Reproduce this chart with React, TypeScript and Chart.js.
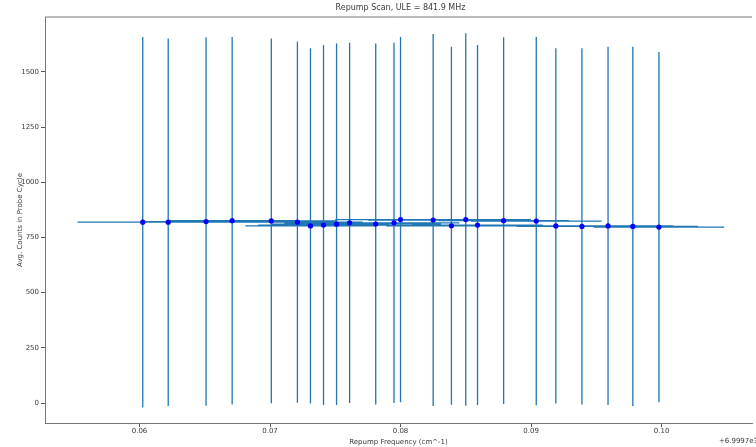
import React, { useEffect, useRef } from "react";
import { Chart, registerables } from "chart.js";

Chart.register(...registerables);

const chartTitle = "Repump Scan, ULE = 841.9 MHz";
const xAxisLabel = "Repump Frequency (cm^-1)";
const yAxisLabel = "Avg. Counts in Probe Cycle";
const xOffsetLabel = "+6.9997e3";

// frequency relative to offset (cm^-1)
const freqs = [
  0.06025, 0.0622, 0.0651, 0.0671, 0.0701, 0.0721, 0.0731, 0.0741, 0.0751, 0.0761,
  0.0781, 0.0795, 0.08, 0.0825, 0.0839, 0.085, 0.0859, 0.0879, 0.0904, 0.0919,
  0.0939, 0.0959, 0.0978, 0.0998,
];
const counts = [
  819, 819, 822, 826, 825, 819, 802, 806, 810, 816,
  811, 816, 831, 829, 803, 831, 806, 826, 824, 802,
  800, 802, 800, 797,
];
const countErr = [
  839, 832, 834, 832, 826, 817, 804, 815, 818, 815,
  817, 815, 827, 842, 810, 843, 815, 830, 834, 804,
  806, 811, 813, 793,
];
const freqErr = [
  0.005, 0.005, 0.005, 0.005, 0.005, 0.005, 0.005, 0.005, 0.005, 0.005,
  0.005, 0.005, 0.005, 0.005, 0.005, 0.005, 0.005, 0.005, 0.005, 0.005,
  0.005, 0.005, 0.005, 0.005,
];
const xTicks = [0.06, 0.07, 0.08, 0.09, 0.1];
const xTickLabels = ["0.06", "0.07", "0.08", "0.09", "0.10"];
const yTicks = [0, 250, 500, 750, 1000, 1250, 1500];

const FONT = '"DejaVu Sans", sans-serif';
const TEXT = "#3a3a3a";
const AXIS = "#555555";
const ERR_COLOR = "#1f77b4";
const MARKER_COLOR = "#0000ff";

const decorPlugin = {
  id: "decor",
  afterDraw(chart: any) {
    const { ctx, chartArea } = chart;
    ctx.save();
    ctx.strokeStyle = AXIS;
    ctx.lineWidth = 0.8;
    ctx.beginPath();
    ctx.moveTo(chartArea.left, chartArea.top);
    ctx.lineTo(chartArea.right, chartArea.top);
    ctx.stroke();
    ctx.fillStyle = TEXT;
    ctx.font = `8px ${FONT}`;
    ctx.textAlign = "center";
    ctx.textBaseline = "middle";
    ctx.fillText(chartTitle, (chartArea.left + chartArea.right) / 2 + 2, 8);
    ctx.font = `7px ${FONT}`;
    ctx.textAlign = "right";
    ctx.fillText(xOffsetLabel, chartArea.right + 6, 441);
    ctx.restore();
  },
};

export default function App() {
  const ref = useRef<HTMLCanvasElement | null>(null);

  useEffect(() => {
    if (!ref.current) return;
    const vBars: any[] = [];
    const hBars: any[] = [];
    const pts: any[] = [];
    freqs.forEach((f, i) => {
      const c = counts[i];
      vBars.push({ x: f, y: c - countErr[i] }, { x: f, y: c + countErr[i] }, { x: f, y: null });
      hBars.push({ x: f - freqErr[i], y: c }, { x: f + freqErr[i], y: c }, { x: null, y: null });
      pts.push({ x: f, y: c });
    });

    const chart = new Chart(ref.current, {
      type: "scatter",
      data: {
        datasets: [
          {
            data: pts,
            pointRadius: 2.6,
            pointBackgroundColor: MARKER_COLOR,
            pointBorderColor: MARKER_COLOR,
            pointBorderWidth: 0,
            showLine: false,
          },
          {
            data: vBars,
            showLine: true,
            spanGaps: false,
            pointRadius: 0,
            borderColor: ERR_COLOR,
            borderWidth: 1.3,
          },
          {
            data: hBars,
            showLine: true,
            spanGaps: false,
            pointRadius: 0,
            borderColor: ERR_COLOR,
            borderWidth: 1.3,
          },
        ],
      },
      options: {
        responsive: false,
        animation: false,
        events: [],
        layout: { padding: { top: 17, right: 0, bottom: 0, left: 0 } },
        plugins: {
          legend: { display: false },
          tooltip: { enabled: false },
          title: { display: false },
        },
        scales: {
          x: {
            type: "linear",
            min: 0.05276,
            max: 0.10693,
            afterBuildTicks: (scale: any) => {
              scale.ticks = xTicks.map((v) => ({ value: v }));
            },
            afterFit: (scale: any) => {
              scale.height = 24;
            },
            grid: {
              drawOnChartArea: false,
              drawTicks: true,
              tickLength: 4,
              tickColor: AXIS,
            },
            border: { display: true, color: AXIS, width: 0.8 },
            ticks: {
              autoSkip: false,
              maxRotation: 0,
              padding: 0,
              color: TEXT,
              font: { family: FONT, size: 7 },
              callback: (v: any) => {
                const idx = xTicks.findIndex((t) => Math.abs(t - v) < 1e-9);
                return idx >= 0 ? xTickLabels[idx] : "";
              },
            },
            title: {
              display: true,
              text: xAxisLabel,
              color: TEXT,
              font: { family: FONT, size: 7 },
              padding: { top: 0, bottom: 1 },
            },
          },
          y: {
            type: "linear",
            min: -90,
            max: 1748,
            afterBuildTicks: (scale: any) => {
              scale.ticks = yTicks.map((v) => ({ value: v }));
            },
            afterFit: (scale: any) => {
              scale.width = 45;
            },
            grid: {
              drawOnChartArea: false,
              drawTicks: true,
              tickLength: 4,
              tickColor: AXIS,
            },
            border: { display: true, color: AXIS, width: 0.8 },
            ticks: {
              autoSkip: false,
              padding: 2,
              color: TEXT,
              font: { family: FONT, size: 7 },
              callback: (v: any) => String(v),
            },
            title: {
              display: true,
              text: yAxisLabel,
              color: TEXT,
              font: { family: FONT, size: 7 },
              padding: { top: 16, bottom: 0 },
            },
          },
        },
      },
      plugins: [decorPlugin],
    });
    return () => chart.destroy();
  }, []);

  return (
    <div style={{ position: "absolute", left: 0, top: 0, width: 756, height: 447, background: "#fff" }}>
      <canvas ref={ref} width={756} height={447} />
    </div>
  );
}
